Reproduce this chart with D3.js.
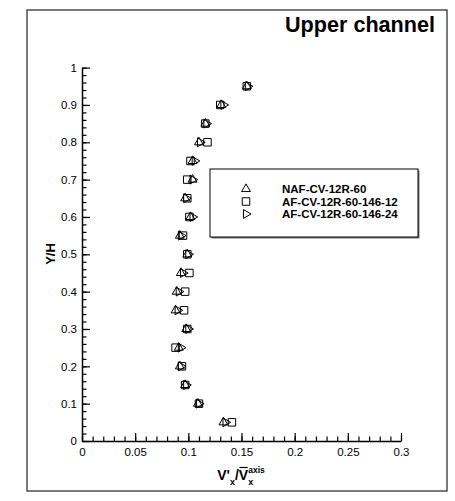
<!DOCTYPE html>
<html>
<head>
<meta charset="utf-8">
<script src="https://cdn.jsdelivr.net/npm/d3@7"></script>
<style>
body { margin: 0; background: white; }
svg text { font-family: "Liberation Sans", Arial, sans-serif; fill: black; }
</style>
</head>
<body>
<svg id="chart"></svg>
<script>
// Y/H levels shared by the three runs
var levels = [0.05, 0.10, 0.15, 0.20, 0.25, 0.30, 0.35, 0.40, 0.45, 0.50,
              0.55, 0.60, 0.65, 0.70, 0.75, 0.80, 0.85, 0.90, 0.95];

var naf = [0.133, 0.109, 0.097, 0.092, 0.091, 0.098, 0.088, 0.089, 0.093, 0.099,
           0.092, 0.102, 0.097, 0.104, 0.104, 0.110, 0.116, 0.131, 0.155];
var af12 = [0.141, 0.110, 0.097, 0.094, 0.088, 0.099, 0.096, 0.097, 0.101, 0.099,
            0.095, 0.101, 0.099, 0.099, 0.102, 0.118, 0.116, 0.130, 0.155];
var af24 = [0.135, 0.110, 0.098, 0.093, 0.093, 0.100, 0.090, 0.091, 0.095, 0.100,
            0.093, 0.104, 0.098, 0.104, 0.106, 0.111, 0.117, 0.133, 0.156];

var seriesNames = ["NAF-CV-12R-60", "AF-CV-12R-60-146-12", "AF-CV-12R-60-146-24"];
var seriesValues = [naf, af12, af24];
var seriesSymbols = ["up", "square", "right"];

var xTicks = [0, 0.05, 0.1, 0.15, 0.2, 0.25, 0.3];
var yTicks = [0, 0.1, 0.2, 0.3, 0.4, 0.5, 0.6, 0.7, 0.8, 0.9, 1];

var width = 455;
var height = 501;

var svg = d3.select("#chart")
    .attr("width", width)
    .attr("height", height);

// outer frame
svg.append("rect")
    .attr("x", 27)
    .attr("y", 10)
    .attr("width", 420)
    .attr("height", 481)
    .attr("fill", "white")
    .attr("stroke", "#333")
    .attr("stroke-width", 1.3);

var xScale = d3.scaleLinear()
    .domain([0, 0.3])
    .range([82, 401]);
var yScale = d3.scaleLinear()
    .domain([0, 1])
    .range([441, 67.6]);

var fmt = function(d) { return String(+d.toFixed(2)); };

// minor ticks
svg.append("g")
    .attr("transform", "translate(0,441)")
    .call(d3.axisBottom(xScale).tickValues(d3.range(0, 0.3001, 0.01)).tickSize(-4.5).tickFormat(""))
    .call(function(g) { g.select(".domain").remove(); });
svg.append("g")
    .attr("transform", "translate(82,0)")
    .call(d3.axisLeft(yScale).tickValues(d3.range(0, 1.0001, 0.02)).tickSize(-4.5).tickFormat(""))
    .call(function(g) { g.select(".domain").remove(); });

// major ticks
var xAxis = svg.append("g")
    .attr("transform", "translate(0,441)")
    .call(d3.axisBottom(xScale).tickValues(xTicks).tickSize(-8).tickSizeOuter(0).tickPadding(7).tickFormat(fmt));
var yAxis = svg.append("g")
    .attr("transform", "translate(82,0)")
    .call(d3.axisLeft(yScale).tickValues(yTicks).tickSize(-8).tickSizeOuter(0).tickPadding(5).tickFormat(fmt));

svg.selectAll(".tick line").attr("stroke", "black").attr("stroke-width", 1.2);
svg.selectAll(".domain").attr("stroke", "black").attr("stroke-width", 1.5);
svg.selectAll(".tick text")
    .attr("font-size", 11.5)
    .attr("font-family", "Liberation Sans, Arial, sans-serif")
    .attr("fill", "#111");

// title
svg.append("text")
    .attr("x", 435)
    .attr("y", 32)
    .attr("text-anchor", "end")
    .attr("font-size", 22.5)
    .attr("font-weight", "bold")
    .attr("textLength", 150)
    .attr("lengthAdjust", "spacingAndGlyphs")
    .text("Upper channel");

// y label
svg.append("text")
    .attr("transform", "translate(55,254) rotate(-90)")
    .attr("text-anchor", "middle")
    .attr("font-size", 13)
    .attr("font-weight", "bold")
    .text("Y/H");

// x label: V'x / Vbar x^axis
var xl = svg.append("g");
var p1 = xl.append("text").attr("font-size", 14).attr("font-weight", "bold").text("V'");
var p2 = xl.append("text").attr("font-size", 9).attr("font-weight", "bold").text("x");
var p3 = xl.append("text").attr("font-size", 14).attr("font-weight", "bold").text("/V");
var p4 = xl.append("text").attr("font-size", 8.5).attr("font-weight", "bold").text("axis");
var p5 = xl.append("text").attr("font-size", 9).attr("font-weight", "bold").text("x");
var w1 = p1.node().getComputedTextLength();
var w2 = p2.node().getComputedTextLength();
var w3 = p3.node().getComputedTextLength();
var w4 = p4.node().getComputedTextLength();
var vW = xl.append("text").attr("font-size", 14).attr("font-weight", "bold").text("V");
var wV = vW.node().getComputedTextLength();
vW.remove();
var total = w1 + w2 + w3 + w4;
var x0 = 241 - total / 2;
var base = 480;
p1.attr("x", x0).attr("y", base);
p2.attr("x", x0 + w1).attr("y", base + 5);
p3.attr("x", x0 + w1 + w2).attr("y", base);
p4.attr("x", x0 + w1 + w2 + w3).attr("y", base - 7);
p5.attr("x", x0 + w1 + w2 + w3).attr("y", base + 5);
xl.append("line")
    .attr("x1", x0 + w1 + w2 + w3 - wV + 0.5)
    .attr("x2", x0 + w1 + w2 + w3 - 0.5)
    .attr("y1", base - 12.5)
    .attr("y2", base - 12.5)
    .attr("stroke", "black")
    .attr("stroke-width", 1.2);

// marker shapes
var markerPath = function(kind) {
    if (kind == "square") {
        return d3.symbol().type(d3.symbolSquare).size(56)();
    }
    return d3.symbol().type(d3.symbolTriangle).size(34)();
};
var markerRotate = function(kind) {
    return kind == "right" ? 90 : 0;
};

// data points
seriesValues.forEach(function(values, i) {
    var pts = values.map(function(v, j) { return { v: v, y: levels[j] }; });
    svg.append("g")
        .selectAll("path")
        .data(pts)
        .enter()
        .append("path")
        .attr("d", markerPath(seriesSymbols[i]))
        .attr("transform", function(d) {
            return "translate(" + xScale(d.v) + "," + yScale(d.y) + ") rotate(" + markerRotate(seriesSymbols[i]) + ")";
        })
        .attr("fill", "none")
        .attr("stroke", "black")
        .attr("stroke-width", 1);
});

// legend
var legend = svg.append("g");
legend.append("rect")
    .attr("x", 211.5).attr("y", 170.5)
    .attr("width", 208).attr("height", 68)
    .attr("fill", "#777");
legend.append("rect")
    .attr("x", 210).attr("y", 169)
    .attr("width", 208).attr("height", 68)
    .attr("fill", "white")
    .attr("stroke", "black")
    .attr("stroke-width", 1);

var rows = legend.selectAll(".row")
    .data(seriesNames)
    .enter()
    .append("g")
    .attr("class", "row")
    .attr("transform", function(d, i) { return "translate(0," + (189 + i * 12.5) + ")"; });
rows.append("path")
    .attr("d", function(d, i) { return markerPath(seriesSymbols[i]); })
    .attr("transform", function(d, i) { return "translate(246,0) rotate(" + markerRotate(seriesSymbols[i]) + ")"; })
    .attr("fill", "none")
    .attr("stroke", "black")
    .attr("stroke-width", 1);
rows.append("text")
    .attr("x", 282)
    .attr("dy", "0.36em")
    .attr("font-size", 11.5)
    .attr("font-weight", "bold")
    .text(function(d) { return d; });
</script>
</body>
</html>
